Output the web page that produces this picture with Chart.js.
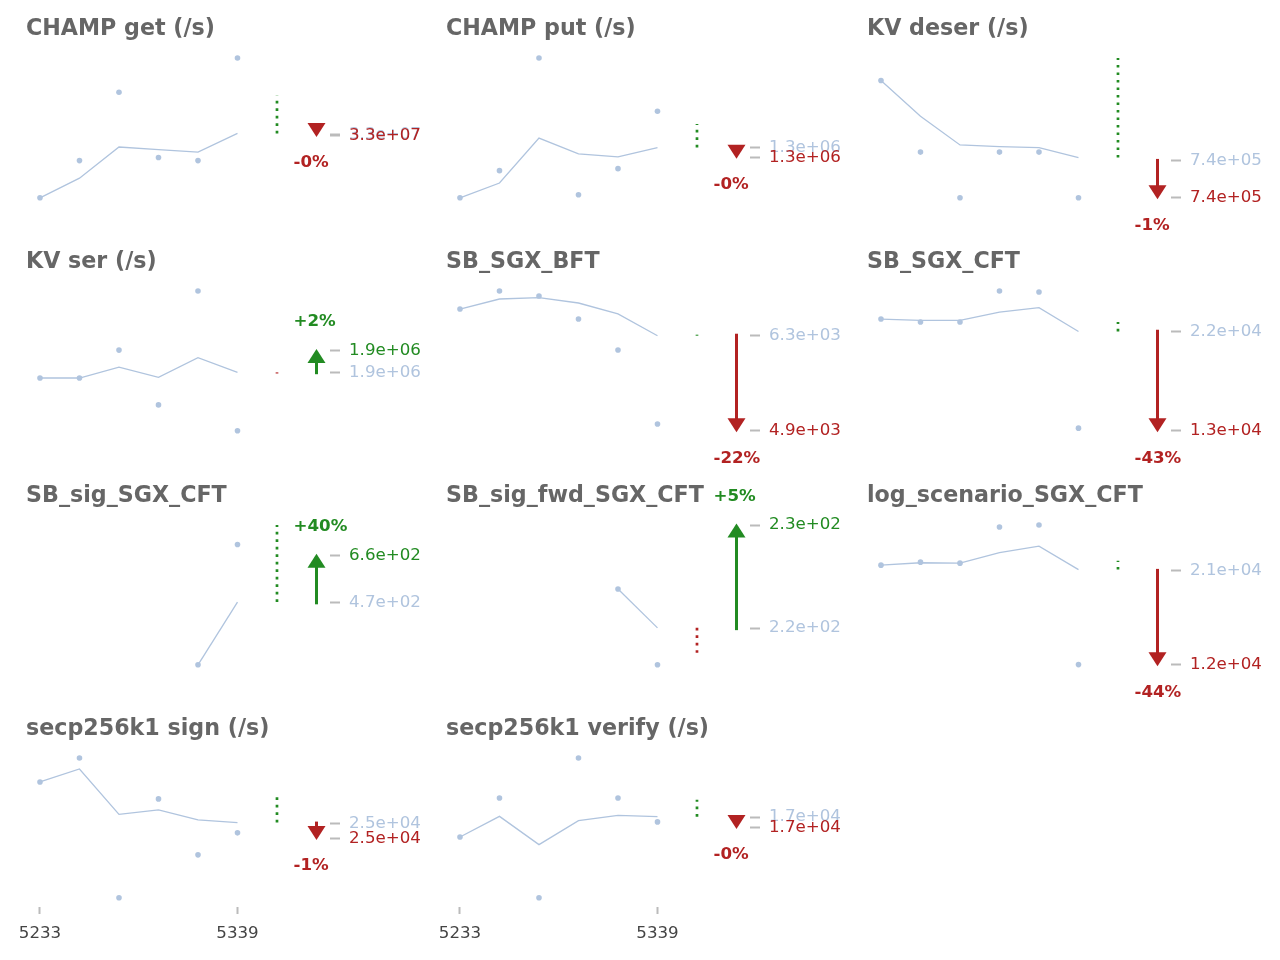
<!DOCTYPE html>
<html>
<head>
<meta charset="utf-8">
<script src="https://cdn.jsdelivr.net/npm/chart.js@4.4.1/dist/chart.umd.min.js"></script>
<style>
html,body{margin:0;padding:0;background:#ffffff;}
#wrap{position:relative;width:1280px;height:960px;overflow:hidden;background:#ffffff;}
canvas{position:absolute;}
</style>
</head>
<body>
<div id="wrap"></div>
<script>
// ---------- data ----------
const titles = ['CHAMP get (/s)', 'CHAMP put (/s)', 'KV deser (/s)', 'KV ser (/s)', 'SB_SGX_BFT', 'SB_SGX_CFT',
  'SB_sig_SGX_CFT', 'SB_sig_fwd_SGX_CFT', 'log_scenario_SGX_CFT', 'secp256k1 sign (/s)', 'secp256k1 verify (/s)'];
const xTickIndex = [0, 5];
const xTickLabels = ['5233', '5339'];
const samples = [
  [3.172e7, 3.246e7, 3.382e7, 3.252e7, 3.246e7, 3.450e7],
  [1.2701e6, 1.2863e6, 1.3535e6, 1.2719e6, 1.2875e6, 1.3217e6],
  [7.571e5, 7.441e5, 7.358e5, 7.441e5, 7.441e5, 7.358e5],
  [1.8701e6, 1.8701e6, 1.9177e6, 1.8242e6, 2.0186e6, 1.7800e6],
  [6667, 6928, 6856, 6522, 6073, 5000],
  [23214, 22927, 22927, 25891, 25795, 12794],
  [null, null, null, null, 220.3, 701],
  [null, null, null, null, 224.17, 216.09],
  [21563, 21860, 21761, 25318, 25515, 11782],
  [25925, 26325, 23991, 25642, 24708, 25075],
  [16871, 17125, 16475, 17385, 17125, 16969]
];
const runningMean = [
  [3.172e7, 3.211e7, 3.273e7, 3.268e7, 3.263e7, 3.300e7],
  [1.2701e6, 1.2789e6, 1.3057e6, 1.2963e6, 1.2945e6, 1.3001e6],
  [7.571e5, 7.506e5, 7.454e5, 7.451e5, 7.449e5, 7.431e5],
  [1.8701e6, 1.8701e6, 1.8888e6, 1.8712e6, 1.9047e6, 1.8797e6],
  [6667, 6812, 6831, 6754, 6595, 6280],
  [23214, 23080, 23080, 23883, 24294, 22029],
  [null, null, null, null, 220.3, 471],
  [null, null, null, null, 224.17, 220.03],
  [21563, 21800, 21761, 22808, 23440, 21128],
  [25925, 26142, 25385, 25458, 25292, 25247],
  [16871, 17005, 16821, 16977, 17012, 17003]
];
const spreadFrom = [3.300e7, 1.3001e6, 7.431e5, 1.8797e6, 6280, 22029, 471, 220.03, 21128, 25247, 17003];
const spreadTo   = [3.375e7, 1.3141e6, 7.612e5, 1.8778e6, 6295, 22930, 779, 217.38, 21988, 25742, 17114];
const baseline   = [3.2976e7, 1.3001e6, 7.425e5, 1.880e6, 6280, 22000, 470, 220, 21000, 25230, 17000];
const current    = [3.296e7, 1.2943e6, 7.358e5, 1.9171e6, 4902, 12540, 658, 231, 11760, 24980, 16932];

// ---------- style ----------
const BLUE = '#b0c4de', GREEN = '#228b22', RED = '#b22222', TICKGRAY = '#bbbbbb';
const FONT = "'DejaVu Sans', sans-serif";
const FS = 16.67;
Chart.defaults.font.family = FONT;

function sci(v) {
  const parts = v.toExponential(1).split('e');
  const e = parts[1];
  return parts[0] + 'e' + e[0] + e.slice(1).padStart(2, '0');
}
function pctText(i) {
  const p = (current[i] - baseline[i]) / baseline[i] * 100;
  return (p < 0 ? '-' : '+') + Math.abs(Math.round(p)) + '%';
}

const arrowPlugin = {
  id: 'arrow',
  afterDatasetsDraw(chart, args, opts) {
    const i = opts.panel;
    const ctx = chart.ctx;
    const xs = chart.scales.x, ys = chart.scales.y;
    const px = xs.getPixelForValue(7);
    const yb = ys.getPixelForValue(baseline[i]);
    const yc = ys.getPixelForValue(current[i]);
    const up = current[i] > baseline[i];
    const dir = up ? -1 : 1;
    const col = up ? GREEN : RED;
    const tip = yc + dir * 1.5;
    const start = yb - dir * 2;
    const headLen = 14, headHalf = 9;
    const headBase = tip - dir * headLen;
    ctx.save();
    ctx.fillStyle = col;
    ctx.strokeStyle = col;
    if ((headBase - start) * dir > 0) {
      ctx.lineWidth = 3;
      ctx.beginPath();
      ctx.moveTo(px, start);
      ctx.lineTo(px, headBase + dir * 1);
      ctx.stroke();
    }
    ctx.beginPath();
    ctx.moveTo(px - headHalf, headBase);
    ctx.lineTo(px + headHalf, headBase);
    ctx.lineTo(px, tip);
    ctx.closePath();
    ctx.fill();
    ctx.font = 'bold ' + FS + 'px ' + FONT;
    ctx.textAlign = 'left';
    ctx.textBaseline = 'middle';
    ctx.fillText(pctText(i), px - 23, up ? tip - 27 : tip + 26);
    ctx.restore();
  }
};

const colX = [0, 420, 841];
const rowY = [0, 233, 467, 700];
const wrap = document.getElementById('wrap');

titles.forEach((title, i) => {
  const row = Math.floor(i / 3), col = i % 3;
  const W = 425, H = row === 3 ? 260 : 234;
  const bottom = (i === 9 || i === 10);
  const cv = document.createElement('canvas');
  cv.width = W; cv.height = H;
  cv.style.left = colX[col] + 'px';
  cv.style.top = rowY[row] + 'px';
  cv.style.width = W + 'px'; cv.style.height = H + 'px';
  wrap.appendChild(cv);

  const pts = samples[i].map((v, k) => v === null ? null : {x: k, y: v}).filter(Boolean);
  const mean = runningMean[i].map((v, k) => v === null ? null : {x: k, y: v}).filter(Boolean);
  const all = [...samples[i], ...runningMean[i], spreadFrom[i], spreadTo[i], baseline[i], current[i]].filter(v => v !== null);
  const hi = Math.max(...all), lo = Math.min(...all);
  const yMax = hi, yMin = hi - (hi - lo) * 149 / 139.8;
  const chg = current[i] > baseline[i] ? GREEN : RED;
  const dotCol = spreadTo[i] > spreadFrom[i] ? GREEN : RED;
  const xAxisH = H - 207;

  new Chart(cv, {
    type: 'line',
    data: {
      datasets: [
        {data: pts, showLine: false, pointRadius: 2.8, pointBackgroundColor: BLUE, pointBorderColor: BLUE,
         pointBorderWidth: 0, pointHoverRadius: 0, borderColor: BLUE, clip: false},
        {data: mean, borderColor: BLUE, borderWidth: 1.3, pointRadius: 0, pointHoverRadius: 0, fill: false,
         tension: 0, clip: false},
        {data: [{x: 6, y: spreadFrom[i]}, {x: 6, y: spreadTo[i]}], borderColor: dotCol, borderWidth: 2.7,
         borderDash: [2.7, 4.8], borderCapStyle: 'butt', pointRadius: 0, pointHoverRadius: 0, fill: false, clip: false}
      ]
    },
    options: {
      responsive: false,
      animation: false,
      events: [],
      layout: {padding: {left: 26, right: 0, top: 0, bottom: 0}, autoPadding: false},
      plugins: {
        legend: {display: false},
        tooltip: {enabled: false},
        title: {display: true, text: title, align: 'start', color: '#666666',
                font: {size: 22.2, weight: 'bold', lineHeight: 1.2}, padding: {top: 16, bottom: 15.36}},
        arrow: {panel: i}
      },
      scales: {
        x: {
          type: 'linear', min: -0.354, max: 7.342,
          afterBuildTicks: s => { s.ticks = xTickIndex.map(v => ({value: v})); },
          afterFit: s => { s.height = xAxisH; },
          border: {display: false},
          grid: {display: true, drawOnChartArea: false, drawTicks: true, tickLength: 7, tickWidth: 2,
                 tickColor: bottom ? TICKGRAY : 'rgba(0,0,0,0)'},
          ticks: {autoSkip: false, maxRotation: 0, padding: 10, font: {size: FS},
                  color: bottom ? '#444444' : 'rgba(0,0,0,0)',
                  callback: (v, k) => xTickLabels[k]}
        },
        y: {
          type: 'linear', position: 'right', min: yMin, max: yMax,
          afterBuildTicks: s => { s.ticks = [{value: baseline[i]}, {value: current[i]}]; },
          afterFit: s => { s.width = 95; },
          border: {display: false},
          grid: {display: true, drawOnChartArea: false, drawTicks: true, tickLength: 10, tickWidth: 2, tickColor: TICKGRAY},
          ticks: {autoSkip: false, padding: 9, font: {size: FS},
                  color: c => c.index === 0 ? BLUE : chg,
                  callback: v => sci(v)}
        }
      }
    },
    plugins: [arrowPlugin]
  });
});
</script>
</body>
</html>
